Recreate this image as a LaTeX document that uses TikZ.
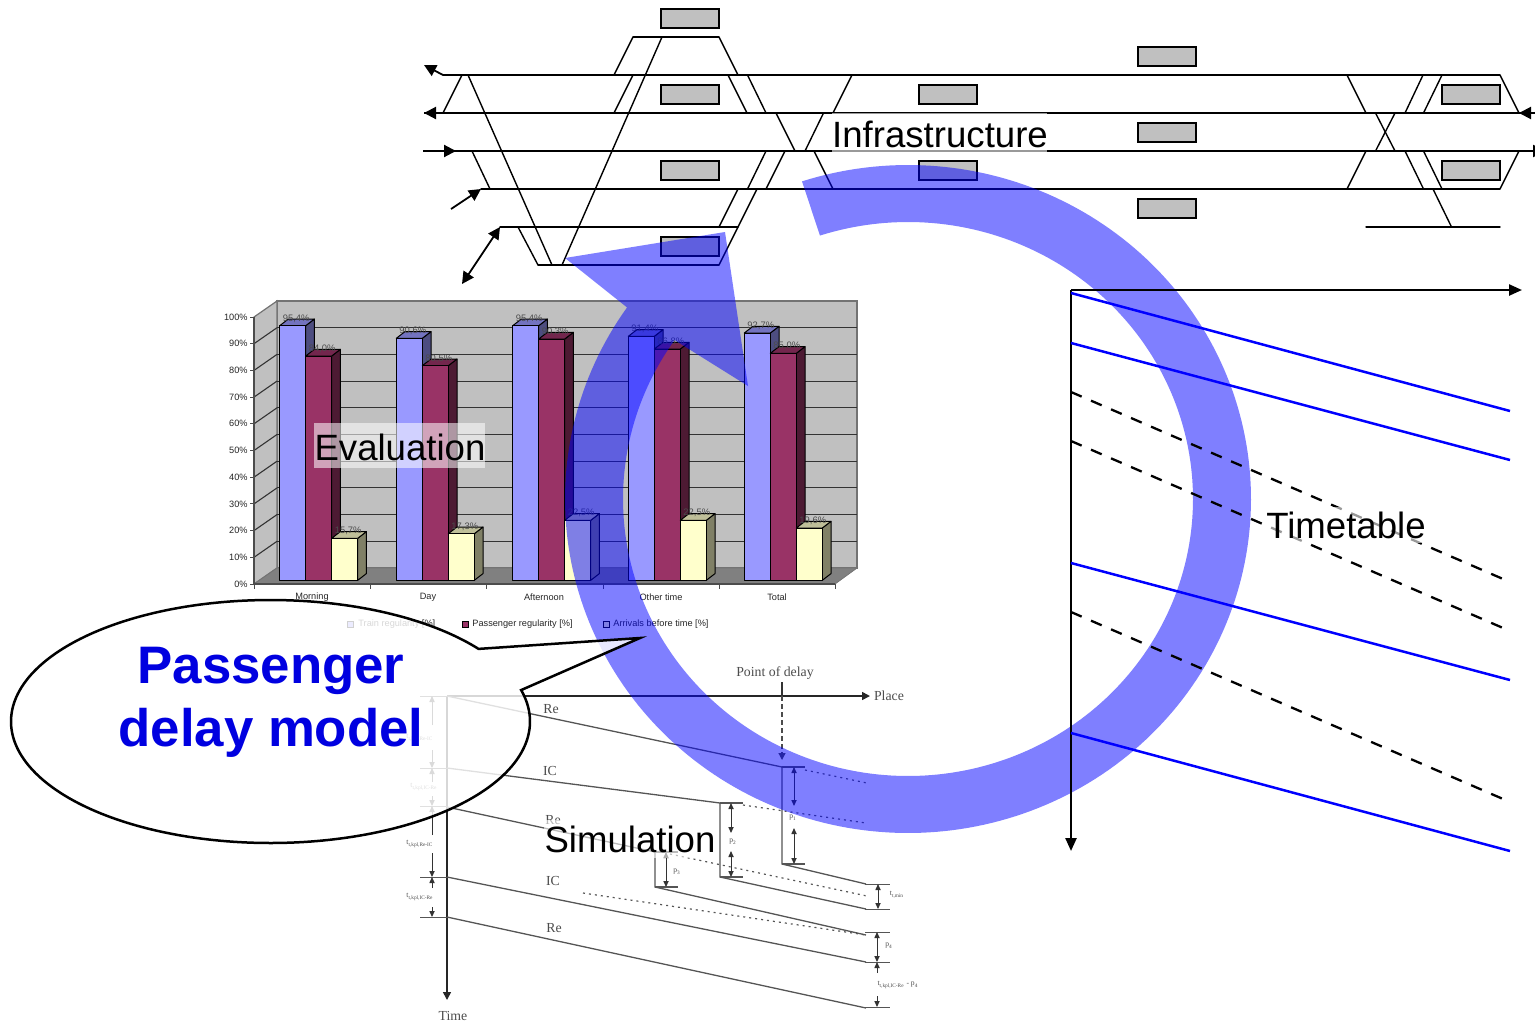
\documentclass[tikz,border=0pt]{standalone}
\usepackage{fontspec}
\setmainfont{Liberation Sans}
\newfontfamily\figserif{Liberation Serif}
\usetikzlibrary{arrows.meta}
\definecolor{barblue}{RGB}{153,153,255}
\definecolor{barblueT}{RGB}{115,115,191}
\definecolor{barblueS}{RGB}{77,77,128}
\definecolor{barred}{RGB}{153,51,102}
\definecolor{barredT}{RGB}{115,38,77}
\definecolor{barredS}{RGB}{77,26,51}
\definecolor{baryel}{RGB}{255,255,204}
\definecolor{baryelT}{RGB}{191,191,153}
\definecolor{baryelS}{RGB}{128,128,102}
\definecolor{wallgray}{RGB}{192,192,192}
\definecolor{floorgray}{RGB}{128,128,128}
\definecolor{simline}{RGB}{85,85,85}
\definecolor{calltext}{RGB}{0,0,224}
\tikzset{
  x=0.5pt,y=-0.5pt,
  track/.style={draw=black,line width=0.7pt,line cap=round},
  mainline/.style={draw=black,line width=1.05pt},
  switchline/.style={draw=black,line width=0.7pt},
  platform/.style={draw=black,line width=0.85pt,fill=wallgray},
  bigtip/.style={-{Triangle[length=6pt,width=6pt]}},
  bothtip/.style={{Triangle[length=6pt,width=6pt]}-{Triangle[length=6pt,width=6pt]}},
  ttaxis/.style={draw=black,line width=1.2pt,-{Triangle[length=6.5pt,width=5.5pt]}},
  ttsolid/.style={draw=blue,line width=1.25pt},
  ttdashed/.style={draw=black,line width=1.15pt,dash pattern=on 5.8pt off 5.1pt},
  chartlabel/.style={font=\fontsize{4.6}{5}\selectfont,text=black!85,inner sep=0pt},
  barlabel/.style={font=\fontsize{4.7}{5}\selectfont,text=black!70,inner sep=0pt},
  barface/.style={draw=black,line width=0.5pt,line join=round},
  wall/.style={draw=black!55,line width=0.6pt,fill=wallgray},
  gridl/.style={draw=black!80,line width=0.55pt},
  simln/.style={draw=simline,line width=0.65pt},
  simaxis/.style={draw=black!85,line width=0.8pt,-{Triangle[length=4pt,width=4pt]}},
  simdot/.style={draw=simline,line width=0.6pt,dash pattern=on 1pt off 2pt},
  simdim/.style={draw=black!80,line width=0.5pt,{Triangle[length=3pt,width=2.6pt]}-{Triangle[length=3pt,width=2.6pt]}},
  simend/.style={draw=black!80,line width=0.5pt,-{Triangle[length=3pt,width=2.6pt]}},
  simbig/.style={font=\figserif\fontsize{6.9}{8}\selectfont,text=black!70,inner sep=0pt},
  simsmall/.style={font=\figserif\fontsize{3.8}{4}\selectfont,text=black!70,inner sep=0pt},
  bigtext/.style={font=\fontsize{18.3}{20}\selectfont,text=black,inner sep=0pt},
  textback/.style={fill=white,fill opacity=0.6,draw=none},
}
% left x, top y, front, side, top colours, label
\newcommand{\chartbar}[6]{%
  \filldraw[barface,fill=#4] ({#1+26},#2) -- ({#1+34.7},{#2-6.7}) -- ({#1+34.7},573.6) -- ({#1+26},580.3) -- cycle;
  \filldraw[barface,fill=#5] (#1,#2) -- ({#1+8.7},{#2-6.7}) -- ({#1+34.7},{#2-6.7}) -- ({#1+26},#2) -- cycle;
  \filldraw[barface,fill=#3] (#1,#2) rectangle ({#1+26},580.3);
  \node[barlabel] at ({#1+16.5},{#2-7}) {#6};
}
\newcommand{\chartgroup}[7]{%
  \pgfmathsetmacro{\barxb}{#1+26}%
  \pgfmathsetmacro{\barxc}{#1+52}%
  \chartbar{#1}{#2}{barblue}{barblueS}{barblueT}{#5}
  \chartbar{\barxb}{#3}{barred}{barredS}{barredT}{#6}
  \chartbar{\barxc}{#4}{baryel}{baryelS}{baryelT}{#7}
}
\begin{document}
\begin{tikzpicture}
\useasboundingbox (0,0) rectangle (1535,1023);
\clip (0,0) rectangle (1535,1023);

% ---------- infrastructure ----------
\foreach \xa/\ya in {661/9,661/85,661/161,661/237,919/85,919/161,1138/47,1138/123,1138/199,1442/85,1442/161}
  \filldraw[platform] (\xa,\ya) rectangle ({\xa+58},{\ya+19});

\coordinate (t1a) at (443,75);   \coordinate (t1b) at (1500,75);
\coordinate (t2a) at (424,113);  \coordinate (t2b) at (1535,113);
\coordinate (t3a) at (423,151);  \coordinate (t3b) at (1545,151);
\coordinate (t4a) at (481,189);  \coordinate (t4b) at (1500,189);
\coordinate (t5a) at (500,227);  \coordinate (t5b) at (738,227);
\coordinate (t6a) at (538,265);  \coordinate (t6b) at (719,265);
\coordinate (t7a) at (633,37);   \coordinate (t7b) at (719,37);
\coordinate (t8a) at (1366,227); \coordinate (t8b) at (1500,227);
\coordinate (s1) at (424,65);
\coordinate (s2) at (451,209);
\coordinate (s3) at (462,284);

\draw[track] (t1a) -- (t1b);
\draw[mainline] (t2b) -- (t2a);
\draw[mainline] (t3a) -- (t3b);
\draw[track] (t4a) -- (t4b);
\draw[track] (t5a) -- (t5b);
\draw[track] (t6a) -- (t6b);
\draw[track] (t7a) -- (t7b);
\draw[track] (t8a) -- (t8b);
\draw[line width=0.9pt,bigtip] (t1a) -- (s1);
\draw[line width=1.05pt,bigtip] (440,113) -- (t2a);
\draw[line width=1.05pt,bigtip] (440,151) -- (456,151);
\draw[line width=0.9pt,bigtip] (s2) -- (t4a);
\draw[line width=0.9pt,bothtip] (s3) -- (t5a);
\draw[line width=1.05pt,bigtip] (1535,113) -- (1519,113);
\draw[line width=1.05pt,bigtip] (1530,151) -- (1545,151);

\foreach \xa/\ya/\xb/\yb in {
  462/75/443/113, 468/75/552/265, 662/37/562/265,
  633/37/614/75, 719/37/738/75, 633/75/614/113, 728/75/747/113, 747.5/75/766/113, 852/75/833/113,
  776/113/795/151, 823.5/113/805/151,
  472/151/490/189, 766/151/747.5/189, 785/151/766/189, 814/151/833/189,
  738/189/719/227, 757/189/719/265, 518/227/538/265,
  1347/75/1366/113, 1423/75/1405/113, 1442/75/1423.5/113, 1500/75/1519/113,
  1375.5/113/1395/151, 1395/113/1375.5/151,
  1366/151/1347/189, 1405/151/1423.5/189, 1423.5/151/1442/189, 1519/151/1500/189,
  1433/189/1451.5/227}
  \draw[switchline] (\xa,\ya) -- (\xb,\yb);

% ---------- chart ----------
\filldraw[wall] (277,301) rectangle (857,568);
\filldraw[wall] (254,317) -- (277,301) -- (277,568) -- (254,584) -- cycle;
\filldraw[draw=black!55,line width=0.4pt,fill=floorgray] (254,584) -- (277,568) -- (857,568) -- (835,584) -- cycle;
\foreach \k in {1,...,9}{
  \draw[gridl] ({277},{301+26.7*\k}) -- (857,{301+26.7*\k});
  \draw[gridl] (254,{317+26.7*\k}) -- (277,{301+26.7*\k});
}
\draw[draw=black!70,line width=0.6pt] (254,317) -- (254,584) -- (835,584);
\foreach \k/\lab in {0/100\%,1/90\%,2/80\%,3/70\%,4/60\%,5/50\%,6/40\%,7/30\%,8/20\%,9/10\%,10/0\%}{
  \draw[draw=black!70,line width=0.5pt] (250,{317+26.7*\k}) -- (254,{317+26.7*\k});
  \node[chartlabel,anchor=east] at (248,{317+26.7*\k}) {\lab};
}
\foreach \xa in {254,370,486.5,603,719,835}
  \draw[draw=black!70,line width=0.5pt] (\xa,584) -- (\xa,589);
\foreach \xa/\lab in {312/Morning,428/Day,544/Afternoon,661/Other time,777/Total}
  \node[chartlabel] at (\xa,597.5) {\lab};

\chartgroup{279.7}{325.7}{356}{538.3}{95,4\%}{84,0\%}{15,7\%}
\chartgroup{396.3}{338.3}{365.7}{533.7}{90,6\%}{80,5\%}{17,3\%}
\chartgroup{512.7}{325.7}{339}{520.3}{95,4\%}{90,3\%}{22,5\%}
\chartgroup{628.3}{336.3}{349}{520.3}{91,4\%}{86,8\%}{22,5\%}
\chartgroup{744.3}{333}{353.3}{528}{92,7\%}{85,0\%}{19,6\%}

% legend
\filldraw[draw=black,line width=0.35pt,fill=barblue] (347,621) rectangle (353,627);
\node[chartlabel,anchor=west] at (358,624.5) {Train regularity [\%]};
\filldraw[draw=black,line width=0.35pt,fill=barred] (462,621) rectangle (468,627);
\node[chartlabel,anchor=west] at (472,624.5) {Passenger regularity [\%]};
\filldraw[draw=black,line width=0.35pt,fill=baryel] (603,621) rectangle (609,627);
\node[chartlabel,anchor=west] at (613,624.5) {Arrivals before time [\%]};

% ---------- simulation figure ----------
\coordinate (o) at (447,696);
\draw[simaxis] (o) -- (870,696);
\draw[simaxis] (o) -- (447,1000);
\draw[draw=black!80,line width=0.55pt] (782,682) -- (782,696);
\draw[draw=black!70,line width=0.6pt,dash pattern=on 2.5pt off 1.5pt,-{Triangle[length=3.5pt,width=3.5pt]}] (782,696) -- (782,760);

\draw[simln] (447,696) -- (782,767) -- (782,864) -- (866,884);
\draw[simln] (782,767) -- (805,767);
\draw[simln] (782,864) -- (805,864);
\draw[simdot] (805,770) -- (867,783);
\draw[simdim] (794,767) -- (794,806);
\draw[simdim] (794,864) -- (794,828);
\draw[simln] (447,768) -- (720,803) -- (720,877) -- (866,909);
\draw[simln] (720,803) -- (743,803);
\draw[simln] (720,877) -- (743,877);
\draw[simdot] (743,805) -- (866,823);
\draw[simdim] (731,803) -- (731,833);
\draw[simdim] (731,877) -- (731,851);
\draw[simln] (447,807) -- (655,852) -- (655,887) -- (866,935);
\draw[simln] (655,852) -- (678,852);
\draw[simln] (655,887) -- (678,887);
\draw[simdot] (670,854) -- (867,896);
\draw[simdim] (666,852) -- (666,887);
\draw[simln] (447,877) -- (866,962);
\draw[simdot] (583,893) -- (866,935);
\draw[simln] (447,917) -- (866,1008);
\foreach \ya in {884,909,932,962,1007}
  \draw[simln,line width=0.5pt] (865,\ya) -- (890,\ya);
\draw[simdim] (878,884) -- (878,909);
\draw[simdim] (877,932) -- (877,962);
\draw[simend] (877,973) -- (877,962);
\draw[simend] (877,996) -- (877,1007);
\foreach \ya in {696,768,806,877,917}
  \draw[simln,line width=0.5pt] (420,\ya) -- (447,\ya);
\draw[simend] (432,725) -- (432,696);
\draw[simend] (432,750) -- (432,768);
\draw[simend] (432,782) -- (432,768);
\draw[simend] (432,796) -- (432,806);
\draw[simend] (432,835) -- (432,806);
\draw[simend] (432,853) -- (432,877);
\draw[simend] (432,888) -- (432,877);
\draw[simend] (432,907) -- (432,917);

\node[simbig] (place) at (889,696) {Place};
\node[simbig] (pod) at (775,673) {Point of delay};
\node[simbig] (time) at (453,1016) {Time};
\node[simbig] (re1) at (551,709) {Re};
\node[simbig] (ic1) at (550,771) {IC};
\node[simbig] (re2) at (553,820) {Re};
\node[simbig] (ic2) at (553,881) {IC};
\node[simbig] (re3) at (554,928) {Re};
\node[simsmall] (p1) at (793,818) {p\textsubscript{1}};
\node[simsmall] (p2) at (733,842) {p\textsubscript{2}};
\node[simsmall] (p3) at (677,872) {p\textsubscript{3}};
\node[simsmall] (p4) at (889,946) {p\textsubscript{4}};
\node[simsmall] (tmin) at (897,895) {t\textsubscript{t,min}};
\node[simsmall] (tk4) at (898,985) {t\textsubscript{t,kpl,IC-Re} - p\textsubscript{4}};
\node[simsmall] (tk1) at (420,738) {t\textsubscript{t,kpl,Re-IC}};
\node[simsmall] (tk2) at (424,787) {t\textsubscript{t,kpl,IC-Re}};
\node[simsmall] (tk3) at (420,844) {t\textsubscript{t,kpl,Re-IC}};
\node[simsmall] (tk5) at (420,897) {t\textsubscript{t,kpl,IC-Re}};

% ---------- cycle arrow ----------
\fill[blue,fill opacity=0.5]
  plot[domain=108:-215,samples=240] ({908+343*cos(\x)},{499-334*sin(\x)})
  -- (565,258) -- (725,232) -- (748,386)
  -- plot[domain=-215:108,samples=240] ({908+285*cos(\x)},{499-277*sin(\x)})
  -- cycle;

% ---------- timetable ----------
\draw[ttaxis] (1071,290) -- (1522,290);
\draw[ttaxis] (1071,290) -- (1071,851);
\draw[ttsolid] (1071,293) -- (1510,411);
\draw[ttsolid] (1071,343) -- (1510,460);
\draw[ttsolid] (1071,563) -- (1510,680);
\draw[ttsolid] (1071,733) -- (1510,851);
\draw[ttdashed] (1071,392) -- (1510,582);
\draw[ttdashed] (1071,441) -- (1510,631);
\draw[ttdashed] (1071,612) -- (1510,802);

% ---------- text labels ----------
\fill[textback] (832,113) rectangle (1047,152);
\node[bigtext] (infra) at (940,134) {Infrastructure};
\fill[textback,fill opacity=0.55] (314,423) rectangle (485,468);
\node[bigtext] (eval) at (400,447) {Evaluation};
\fill[textback] (1266,507) rectangle (1427,543);
\node[bigtext] (timet) at (1346,525) {Timetable};
\fill[textback] (544,820) rectangle (716,858);
\node[bigtext] (simu) at (630,839) {Simulation};

% ---------- callout ----------
\filldraw[draw=black,line width=1.25pt,line join=miter,fill=white,fill opacity=0.82,draw opacity=1]
  (640,638) -- plot[domain=15:-323.3,samples=240] ({270.5+259.5*cos(\x)},{721.5-121.5*sin(\x)}) -- cycle;
\node[font=\bfseries\fontsize{26.4}{31.5}\selectfont,text=calltext,align=center,inner sep=0pt] (callout) at (271,702) {Passenger\\delay model};
\end{tikzpicture}
\end{document}
